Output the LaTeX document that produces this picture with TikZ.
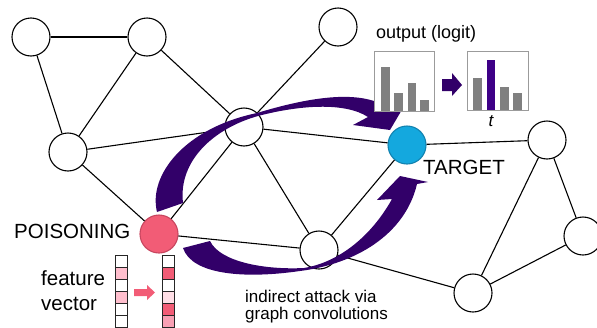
\documentclass[tikz,border=0pt]{standalone}
\usepackage{fontspec}
\setmainfont{Liberation Sans}
\definecolor{arrowpurple}{RGB}{50,0,105}
\definecolor{barpurple}{RGB}{62,0,135}
\definecolor{bargray}{RGB}{128,128,128}
\definecolor{boxgray}{RGB}{155,155,155}
\definecolor{poisonpink}{RGB}{242,92,118}
\definecolor{poisonborder}{RGB}{200,70,95}
\definecolor{targetblue}{RGB}{20,168,222}
\definecolor{targetborder}{RGB}{18,130,175}
\definecolor{lightpink}{RGB}{255,190,205}
\definecolor{palepink}{RGB}{255,222,230}
\definecolor{midpink}{RGB}{248,160,180}
\begin{document}
\begin{tikzpicture}[x=1pt,y=-1pt,
  vtx/.style={circle,draw=black,line width=1.1pt,fill=white,minimum size=38pt,inner sep=0pt},
  edge/.style={draw=black,line width=1.1pt},
  ribbon/.style={fill=arrowpurple,draw=none},
  lbl/.style={inner sep=0pt,anchor=base west,font=\fontsize{20.5}{24}\selectfont},
  small/.style={inner sep=0pt,anchor=base west,font=\fontsize{17}{20}\selectfont},
  cell/.style={draw=black!85,line width=0.6pt},
  bar/.style={fill=bargray,draw=none},
  chart/.style={draw=boxgray,line width=0.9pt}
]
\useasboundingbox (0,0) rectangle (597,327);
\clip (0,0) rectangle (597,327);

% vertices
\node[vtx] (A) at (31,37) {};
\node[vtx] (B) at (147,37) {};
\node[vtx] (C) at (338,27) {};
\node[vtx] (D) at (68,152) {};
\node[vtx] (E) at (244,127) {};
\node[vtx,fill=poisonpink,draw=poisonborder] (P) at (159,234) {};
\node[vtx] (F) at (319,250) {};
\node[vtx,fill=targetblue,draw=targetborder] (T) at (407,145) {};
\node[vtx] (G) at (547,140) {};
\node[vtx] (H) at (583,236) {};
\node[vtx] (I) at (473,293) {};

% edges
\foreach \a/\b in {A/B,A/D,B/D,B/E,C/E,D/E,D/P,E/P,E/F,E/T,P/F,F/T,T/G,G/I,G/H,H/I,F/I}
  \draw[edge] (\a) -- (\b);

% ribbon arrows
\fill[ribbon] (157,212) .. controls (148,175) and (185,128) .. (257,113)
  .. controls (300,100) and (355,88) .. (385,106)
  -- (403,108) -- (390,130) -- (353,125) -- (368,117)
  .. controls (345,102) and (300,105) .. (258,116)
  .. controls (215,128) and (178,160) .. (183,203) -- cycle;
\fill[ribbon] (183,248) .. controls (192,275) and (245,279) .. (300,271)
  .. controls (355,264) and (405,235) .. (417,184)
  -- (428,182) -- (400,176) -- (377,200) -- (392,199)
  .. controls (372,235) and (340,262) .. (304,268)
  .. controls (265,270) and (220,262) .. (210,241) -- cycle;

% output charts
\fill[white] (374,51) rectangle (434,111);
\fill[bar] (381,67) rectangle (390,111);
\fill[bar] (394,93) rectangle (403,111);
\fill[bar] (408,83) rectangle (416,111);
\fill[bar] (420,100) rectangle (429,111);
\draw[chart] (374,51) rectangle (434,111);

\fill[white] (467,51) rectangle (528,110);
\fill[bar] (473,78) rectangle (482,110);
\fill[barpurple] (487,60) rectangle (495,110);
\fill[bar] (500,87) rectangle (509,110);
\fill[bar] (513,93) rectangle (522,110);
\draw[chart] (467,51) rectangle (528,110);

\fill[arrowpurple] (442,79) -- (452,79) -- (452,73) -- (462,85) -- (452,96) -- (452,91) -- (442,91) -- cycle;

% feature vectors
\foreach \c [count=\k from 0] in {white,lightpink,white,lightpink,white,white}
  \draw[cell,fill=\c] (115,255+12*\k) rectangle (127,267+12*\k);
\foreach \c [count=\k from 0] in {white,poisonpink,white,palepink,poisonpink,midpink}
  \draw[cell,fill=\c] (162,255+12*\k) rectangle (174,267+12*\k);
\fill[poisonpink] (134,289) -- (147,289) -- (147,285) -- (155,292.5) -- (147,300) -- (147,296) -- (134,296) -- cycle;

% texts
\node[inner sep=0pt,anchor=base west,font=\fontsize{18}{22}\selectfont] (out) at (376,38) {output (logit)};
\node[inner sep=0pt,font=\fontsize{17}{19}\selectfont\itshape] (tl) at (491,121) {t};
\node[lbl] (tg) at (423,174) {TARGET};
\node[lbl] (po) at (14,238) {POISONING};
\node[lbl] (fe) at (41,285) {feature};
\node[lbl] (ve) at (41,310) {vector};
\node[small] (in1) at (245,302) {indirect attack via};
\node[small] (in2) at (245,319) {graph convolutions};
\end{tikzpicture}
\end{document}
